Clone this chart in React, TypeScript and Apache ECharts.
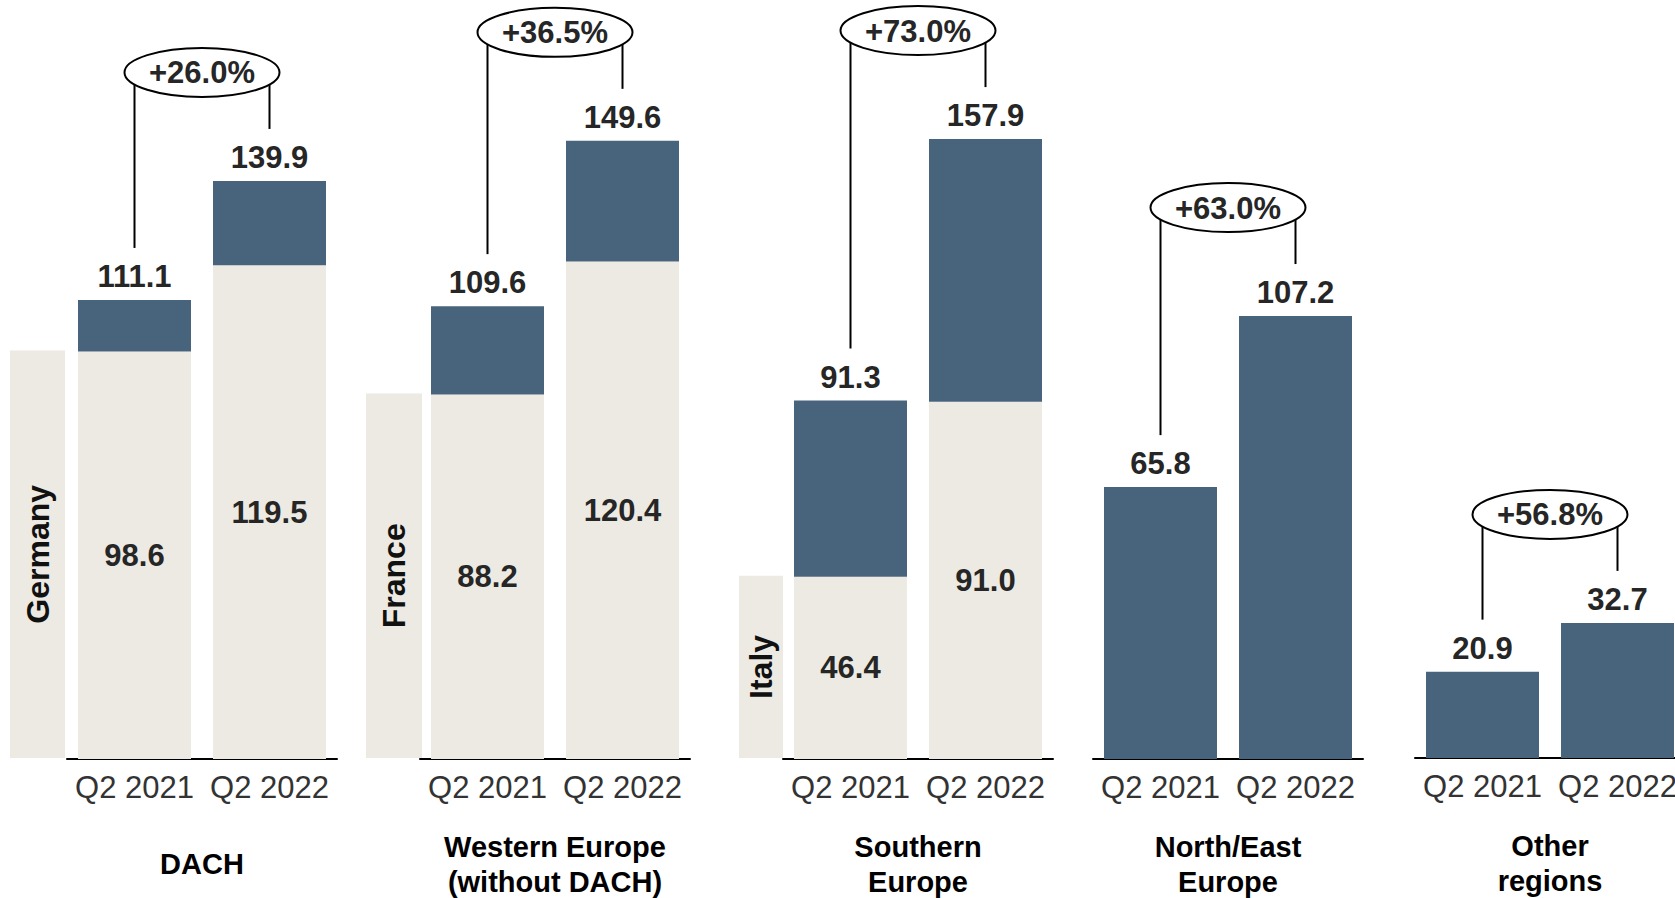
import React, { useEffect, useRef } from 'react';
import * as echarts from 'echarts';

// ---------- data ----------
const periods = ['Q2 2021', 'Q2 2022'];
const regions = [
  'DACH',
  'Western Europe\n(without DACH)',
  'Southern\nEurope',
  'North/East\nEurope',
  'Other\nregions',
];
const totals2021 = [111.1, 109.6, 91.3, 65.8, 20.9];
const totals2022 = [139.9, 149.6, 157.9, 107.2, 32.7];
const largestCountry = ['Germany', 'France', 'Italy'];
const country2021 = [98.6, 88.2, 46.4];
const country2022 = [119.5, 120.4, 91.0];
const growth = ['+26.0%', '+36.5%', '+73.0%', '+63.0%', '+56.8%'];

// ---------- layout / style ----------
const FONT = '"Liberation Sans", Arial, Helvetica, sans-serif';
const NAVY = '#48647d';
const BEIGE = '#eceae2';
const VALUE_COLOR = '#262626';
const PANEL_LEFT = [67, 420, 783, 1093, 1415];
const PANEL_BASE = [759, 759, 759, 759, 758];
const PX_PER_UNIT = [4.132, 4.132, 3.926, 4.132, 4.132];
const COUNTRY_BAR = [
  [10, 55],
  [366, 56],
  [739, 44],
];
const PANEL_W = 270;
const Y_MAX = 170;
const CHART_H = 898;

function buildOption() {
  const grid: any[] = [];
  const xAxis: any[] = [];
  const yAxis: any[] = [];
  const series: any[] = [];

  regions.forEach((region, i) => {
    const h = Y_MAX * PX_PER_UNIT[i];
    grid.push({
      left: PANEL_LEFT[i],
      width: PANEL_W,
      bottom: CHART_H - PANEL_BASE[i],
      height: h,
      outerBoundsMode: 'none',
      containLabel: false,
    });
    xAxis.push({
      type: 'category',
      gridIndex: i,
      data: periods,
      axisLine: { show: true, lineStyle: { color: '#000', width: 2 } },
      axisTick: { show: false },
      axisLabel: {
        interval: 0,
        fontSize: 31,
        color: '#333',
        fontFamily: FONT,
        margin: 13,
      },
      splitLine: { show: false },
      name: region,
      nameLocation: 'middle',
      nameGap: 105,
      nameMoveOverlap: false,
      nameTextStyle: {
        fontSize: 29,
        fontWeight: 'bold',
        color: '#000',
        fontFamily: FONT,
        lineHeight: 35,
        verticalAlign: 'middle',
        align: 'center',
      },
    });
    yAxis.push({ type: 'value', gridIndex: i, min: 0, max: Y_MAX, show: false });

    const t = [totals2021[i], totals2022[i]];
    const hasCountry = i < country2021.length;
    const c = hasCountry ? [country2021[i], country2022[i]] : [0, 0];

    if (hasCountry) {
      series.push({
        type: 'bar',
        xAxisIndex: i,
        yAxisIndex: i,
        stack: 'stack' + i,
        barWidth: 113,
        data: c,
        itemStyle: { color: BEIGE },
        label: {
          show: true,
          position: 'inside',
          formatter: (p: any) => Number(p.value).toFixed(1),
          fontSize: 31,
          fontWeight: 'bold',
          color: VALUE_COLOR,
          fontFamily: FONT,
        },
        silent: true,
      });
    }
    series.push({
      type: 'bar',
      xAxisIndex: i,
      yAxisIndex: i,
      stack: 'stack' + i,
      barWidth: 113,
      data: t.map((v, k) => +(v - c[k]).toFixed(1)),
      itemStyle: { color: NAVY },
      label: {
        show: true,
        position: 'top',
        distance: 8,
        formatter: (p: any) => t[p.dataIndex].toFixed(1),
        fontSize: 31,
        fontWeight: 'bold',
        color: VALUE_COLOR,
        fontFamily: FONT,
      },
      silent: true,
    });

    // growth annotation: connectors + ellipse + text
    series.push({
      type: 'custom',
      xAxisIndex: i,
      yAxisIndex: i,
      z: 5,
      clip: false,
      silent: true,
      encode: { x: 0, y: 1 },
      data: [[0, t[0], t[1]]],
      renderItem: (params: any, api: any) => {
        const p1 = api.coord([0, api.value(1)]);
        const p2 = api.coord([1, api.value(2)]);
        const topY = Math.min(p1[1], p2[1]);
        const cy = topY - 108.5;
        const cx = (p1[0] + p2[0]) / 2;
        return {
          type: 'group',
          children: [
            {
              type: 'line',
              shape: { x1: p1[0], y1: cy, x2: p1[0], y2: p1[1] - 52 },
              style: { stroke: '#000', lineWidth: 2 },
            },
            {
              type: 'line',
              shape: { x1: p2[0], y1: cy, x2: p2[0], y2: p2[1] - 52 },
              style: { stroke: '#000', lineWidth: 2 },
            },
            {
              type: 'ellipse',
              shape: { cx, cy, rx: 77.5, ry: 24.5 },
              style: { fill: '#fff', stroke: '#000', lineWidth: 2 },
            },
            {
              type: 'text',
              x: cx,
              y: cy + 0.5,
              style: {
                text: growth[i],
                align: 'center',
                verticalAlign: 'middle',
                fontSize: 31,
                fontWeight: 'bold',
                fontFamily: FONT,
                fill: VALUE_COLOR,
              },
            },
          ],
        };
      },
    });
  });

  // side bars naming the largest country of each region
  largestCountry.forEach((name, j) => {
    const gi = grid.length;
    const h = Y_MAX * PX_PER_UNIT[j];
    grid.push({
      left: COUNTRY_BAR[j][0],
      width: COUNTRY_BAR[j][1],
      bottom: CHART_H - PANEL_BASE[j] + 1,
      height: h,
      outerBoundsMode: 'none',
      containLabel: false,
    });
    xAxis.push({ type: 'category', gridIndex: gi, data: [name], show: false });
    yAxis.push({ type: 'value', gridIndex: gi, min: 0, max: Y_MAX, show: false });
    series.push({
      type: 'bar',
      xAxisIndex: gi,
      yAxisIndex: gi,
      barWidth: '100%',
      data: [country2021[j]],
      itemStyle: { color: BEIGE },
      label: {
        show: true,
        position: 'inside',
        rotate: 90,
        formatter: () => name,
        fontSize: 32,
        fontWeight: 'bold',
        color: '#111',
        fontFamily: FONT,
      },
      silent: true,
    });
  });

  return {
    animation: false,
    backgroundColor: '#fff',
    textStyle: { fontFamily: FONT },
    grid,
    xAxis,
    yAxis,
    series,
  };
}

export default function App() {
  const ref = useRef<HTMLDivElement>(null);
  useEffect(() => {
    if (!ref.current) return;
    const chart = echarts.init(ref.current, undefined, { renderer: 'svg' });
    chart.setOption(buildOption() as any);
    return () => chart.dispose();
  }, []);
  return (
    <div
      ref={ref}
      style={{ position: 'fixed', left: 0, top: 0, width: 1675, height: 898, background: '#fff' }}
    />
  );
}
